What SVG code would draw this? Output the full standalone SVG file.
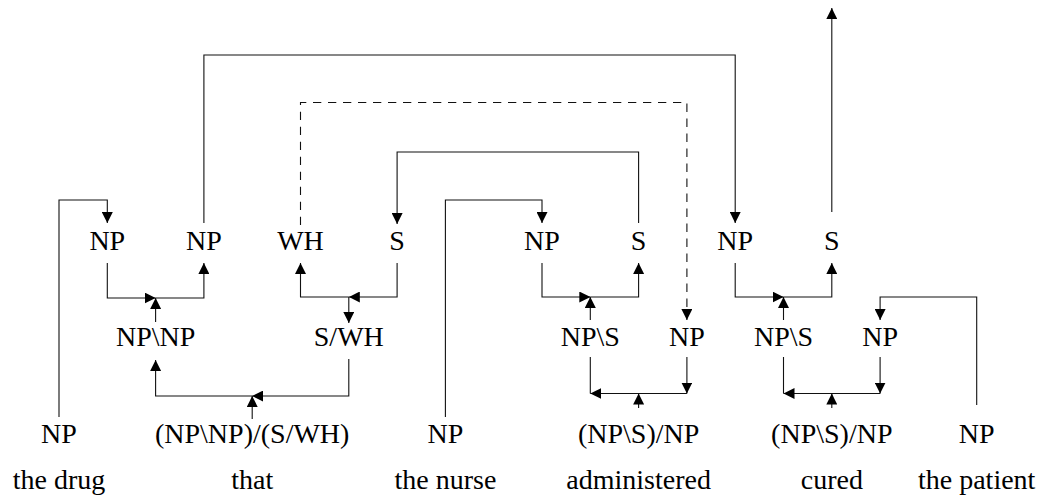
<svg xmlns="http://www.w3.org/2000/svg" width="1045" height="498" viewBox="0 0 1045 498">
<style>
text{font-family:"Liberation Serif","DejaVu Serif","Times New Roman",serif;font-size:28px;fill:#000;text-anchor:middle}
.c path{fill:none;stroke:#111;stroke-width:1.1}
.c .a{marker-end:url(#ah)}
.c .d{stroke-dasharray:8.3 6.7}
</style>
<defs>
<marker id="ah" markerUnits="userSpaceOnUse" markerWidth="11" markerHeight="11" viewBox="0 0 10 10" refX="10" refY="5" orient="auto">
<path d="M0,0 L10,5 L0,10 z" fill="#000"/>
</marker>
</defs>
<rect width="1045" height="498" fill="#fff"/>
<g class="c" id="connectors">
<path class="a" d="M59,417 V200 H107.3 V223"/>
<path class="a" d="M203.9,223 V55 H735.2 V223"/>
<path class="a d" d="M300.5,225 V102.5 H686.9 V320"/>
<path class="a" d="M638.6,223 V152 H397.1 V224"/>
<path class="a" d="M445.4,417 V200 H542 V223"/>
<path class="a" d="M831.8,212 V8"/>
<path class="a" d="M107.3,263 V298 H155.6"/>
<path class="a" d="M155.6,298 H203.9 V263"/>
<path class="a" d="M155.6,322 V298"/>
<path class="a" d="M348.8,297 H300.5 V263"/>
<path class="a" d="M397.1,263 V297 H348.8"/>
<path class="a" d="M348.8,297 V323"/>
<path class="a" d="M542,263 V297 H590.3"/>
<path class="a" d="M590.3,297 H638.6 V263"/>
<path class="a" d="M590.3,320 V297"/>
<path class="a" d="M735.2,263 V297 H783.5"/>
<path class="a" d="M783.5,297 H831.8 V263"/>
<path class="a" d="M783.5,320 V297"/>
<path class="a" d="M976.7,405 V297 H880.1 V320"/>
<path class="a" d="M348.8,359 V396 H252.2"/>
<path class="a" d="M252.2,396 H155.6 V360"/>
<path class="a" d="M252.2,419 V396"/>
<path class="a" d="M686.9,357 V393.5"/>
<path class="a" d="M686.9,393.5 H590.3"/>
<path d="M590.3,357 V393.5"/>
<path class="a" d="M638.6,408 V393.5"/>
<path class="a" d="M880.1,357 V393.5"/>
<path class="a" d="M880.1,393.5 H783.5"/>
<path d="M783.5,357 V393.5"/>
<path class="a" d="M831.8,408 V393.5"/>
</g>
<g id="n_np1"><text x="107.3" y="250">NP</text></g>
<g id="n_np2"><text x="203.9" y="250">NP</text></g>
<g id="n_wh"><text x="300.5" y="250">WH</text></g>
<g id="n_s1"><text x="397.1" y="250">S</text></g>
<g id="n_np3"><text x="542" y="250">NP</text></g>
<g id="n_s2"><text x="638.6" y="250">S</text></g>
<g id="n_np4"><text x="735.2" y="250">NP</text></g>
<g id="n_s3"><text x="831.8" y="250">S</text></g>
<g id="n_npnp"><text x="155.6" y="346">NP\NP</text></g>
<g id="n_swh"><text x="348.8" y="346">S/WH</text></g>
<g id="n_nps1"><text x="590.3" y="346">NP\S</text></g>
<g id="n_np5"><text x="686.9" y="346">NP</text></g>
<g id="n_nps2"><text x="783.5" y="346">NP\S</text></g>
<g id="n_np6"><text x="880.1" y="346">NP</text></g>
<g id="n_drug"><text x="59" y="443">NP</text><text x="59" y="489">the drug</text></g>
<g id="n_that"><text x="252.2" y="443">(NP\NP)/(S/WH)</text><text x="252.2" y="489">that</text></g>
<g id="n_nurse"><text x="445.4" y="443">NP</text><text x="445.4" y="489">the nurse</text></g>
<g id="n_admin"><text x="638.6" y="443">(NP\S)/NP</text><text x="638.6" y="489">administered</text></g>
<g id="n_cured"><text x="831.8" y="443">(NP\S)/NP</text><text x="831.8" y="489">cured</text></g>
<g id="n_patient"><text x="976.7" y="443">NP</text><text x="976.7" y="489">the patient</text></g>
</svg>
